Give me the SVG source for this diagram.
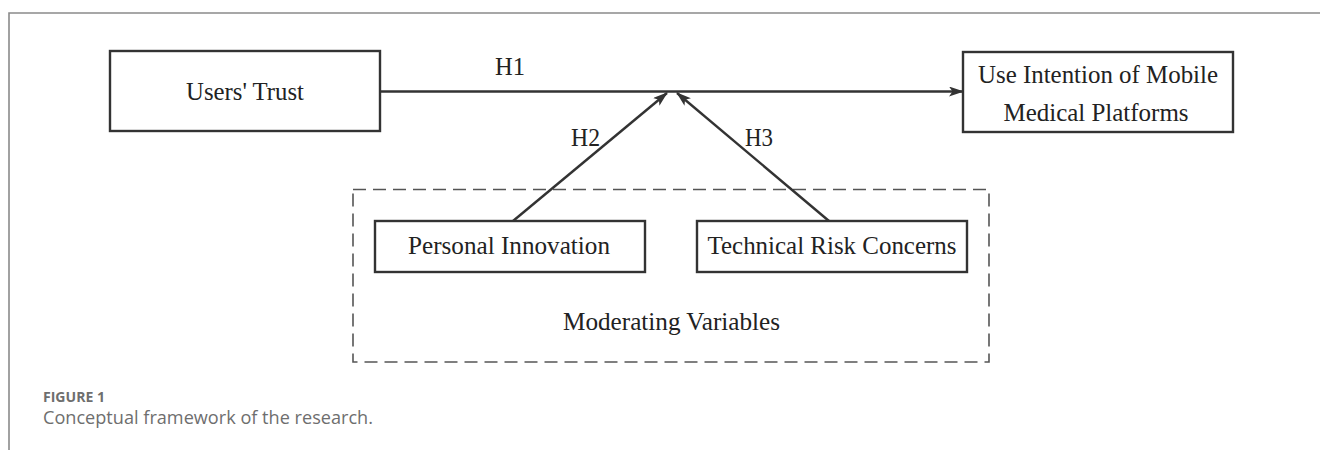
<svg xmlns="http://www.w3.org/2000/svg" width="1320" height="450" viewBox="0 0 1320 450">
<style>
.box{fill:#fff;stroke:#333;stroke-width:2.4}
.lbl{font-family:"Liberation Serif","Times New Roman",serif;font-size:26px;fill:#222;text-anchor:middle}
.h{font-family:"Liberation Serif","Times New Roman",serif;font-size:25px;fill:#222}
.conn{stroke:#333;stroke-width:2.4;fill:none}
.cap{font-family:"Open Sans","Liberation Sans",sans-serif;fill:#6e6e6e}
</style>
<defs>
<marker id="arr" markerUnits="userSpaceOnUse" markerWidth="15" markerHeight="12" refX="14" refY="5" orient="auto">
<path d="M0,0 L15,5 L0,10 L3.5,5 z" fill="#333"/>
</marker>
</defs>
<rect width="1320" height="450" fill="#fff"/>
<path d="M9,450 V13 H1320" fill="none" stroke="#8a8a8a" stroke-width="1.6"/>
<g id="moderating-variables">
<rect x="353" y="189.5" width="636" height="172.5" fill="none" stroke="#555" stroke-width="1.6" stroke-dasharray="13,7"/>
<text class="lbl" x="671.5" y="330" textLength="217" lengthAdjust="spacingAndGlyphs">Moderating Variables</text>
</g>
<g id="users-trust">
<rect class="box" x="110" y="51" width="270" height="80"/>
<text class="lbl" x="245" y="100" textLength="118" lengthAdjust="spacingAndGlyphs">Users' Trust</text>
</g>
<g id="use-intention">
<rect class="box" x="963" y="52" width="270" height="80"/>
<text class="lbl" x="1098" y="83" textLength="240" lengthAdjust="spacingAndGlyphs">Use Intention of Mobile</text>
<text class="lbl" x="1096" y="121" textLength="185" lengthAdjust="spacingAndGlyphs">Medical Platforms</text>
</g>
<g id="personal-innovation">
<rect class="box" x="375" y="221" width="270" height="51"/>
<text class="lbl" x="509" y="254" textLength="202" lengthAdjust="spacingAndGlyphs">Personal Innovation</text>
</g>
<g id="technical-risk">
<rect class="box" x="697" y="221" width="270" height="51"/>
<text class="lbl" x="832" y="254" textLength="249" lengthAdjust="spacingAndGlyphs">Technical Risk Concerns</text>
</g>
<g id="connectors">
<line class="conn" x1="380" y1="91.5" x2="963" y2="91.5" marker-end="url(#arr)"/>
<line class="conn" x1="513" y1="221" x2="667" y2="93" marker-end="url(#arr)"/>
<line class="conn" x1="829" y1="221" x2="677" y2="93" marker-end="url(#arr)"/>
<text class="h" x="495" y="75" textLength="30" lengthAdjust="spacingAndGlyphs">H1</text>
<text class="h" x="571" y="146" textLength="29" lengthAdjust="spacingAndGlyphs">H2</text>
<text class="h" x="745" y="146" textLength="28" lengthAdjust="spacingAndGlyphs">H3</text>
</g>
<text class="cap" x="43" y="402" font-size="14" font-weight="700" fill="#7a7a7a" textLength="62" lengthAdjust="spacingAndGlyphs">FIGURE 1</text>
<text class="cap" x="43" y="424" font-size="17.5" textLength="330" lengthAdjust="spacingAndGlyphs">Conceptual framework of the research.</text>
</svg>
